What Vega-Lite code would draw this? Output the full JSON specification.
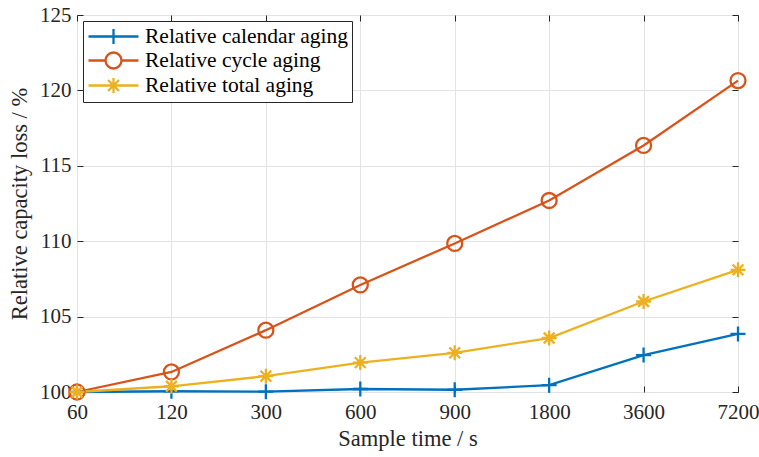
{
  "$schema": "https://vega.github.io/schema/vega-lite/v6.json",
  "autosize": {"type": "none"},
  "width": 661,
  "height": 377,
  "padding": {"left": 77, "top": 15, "right": 21, "bottom": 65},
  "background": "white",
  "config": {
    "font": "Liberation Serif",
    "view": {"stroke": "#262626", "strokeWidth": 1},
    "axis": {
      "labelFont": "Liberation Serif",
      "titleFont": "Liberation Serif",
      "labelFontSize": 21,
      "titleFontSize": 22.5,
      "titleFontWeight": "normal",
      "labelColor": "#262626",
      "titleColor": "#262626",
      "domainColor": "#262626",
      "tickColor": "#262626",
      "gridColor": "#e3e3e3",
      "gridWidth": 1
    },
    "legend": {
      "labelFont": "Liberation Serif"
    }
  },
  "data": {
    "values": [
      {"t": "60", "series": "Relative calendar aging", "v": 100.0},
      {"t": "120", "series": "Relative calendar aging", "v": 100.05},
      {"t": "300", "series": "Relative calendar aging", "v": 100.02},
      {"t": "600", "series": "Relative calendar aging", "v": 100.2},
      {"t": "900", "series": "Relative calendar aging", "v": 100.15},
      {"t": "1800", "series": "Relative calendar aging", "v": 100.45},
      {"t": "3600", "series": "Relative calendar aging", "v": 102.45},
      {"t": "7200", "series": "Relative calendar aging", "v": 103.85},
      {"t": "60", "series": "Relative cycle aging", "v": 100.0},
      {"t": "120", "series": "Relative cycle aging", "v": 101.33},
      {"t": "300", "series": "Relative cycle aging", "v": 104.1},
      {"t": "600", "series": "Relative cycle aging", "v": 107.1},
      {"t": "900", "series": "Relative cycle aging", "v": 109.85},
      {"t": "1800", "series": "Relative cycle aging", "v": 112.7},
      {"t": "3600", "series": "Relative cycle aging", "v": 116.35},
      {"t": "7200", "series": "Relative cycle aging", "v": 120.65},
      {"t": "60", "series": "Relative total aging", "v": 100.0},
      {"t": "120", "series": "Relative total aging", "v": 100.38},
      {"t": "300", "series": "Relative total aging", "v": 101.05},
      {"t": "600", "series": "Relative total aging", "v": 101.95},
      {"t": "900", "series": "Relative total aging", "v": 102.6},
      {"t": "1800", "series": "Relative total aging", "v": 103.58},
      {"t": "3600", "series": "Relative total aging", "v": 106.0},
      {"t": "7200", "series": "Relative total aging", "v": 108.1}
    ]
  },
  "resolve": {"axis": {"x": "independent", "y": "independent"}},
  "encoding": {
    "color": {
      "field": "series", "type": "nominal",
      "scale": {"domain": ["Relative calendar aging","Relative cycle aging","Relative total aging"], "range": ["#0072BD","#D95319","#EDB120"]}
    }
  },
  "layer": [
    {
      "mark": {"type": "line", "strokeWidth": 2.3},
      "encoding": {
        "x": {
          "field": "t", "type": "ordinal",
          "scale": {"type": "point", "padding": 0, "domain": ["60","120","300","600","900","1800","3600","7200"]},
          "axis": {"title": "Sample time / s", "labelAngle": 0, "grid": true, "tickSize": -6, "labelPadding": 15, "titlePadding": 5, "domain": false}
        },
        "y": {
          "field": "v", "type": "quantitative",
          "scale": {"domain": [100, 125], "nice": false, "zero": false},
          "axis": {"title": "Relative capacity loss / %", "values": [100,105,110,115,120,125], "grid": true, "tickSize": -6, "labelPadding": 12, "titlePadding": 8, "domain": false}
        },
        "color": {
          "field": "series", "type": "nominal",
          "scale": {"domain": ["Relative calendar aging","Relative cycle aging","Relative total aging"], "range": ["#0072BD","#D95319","#EDB120"]},
          "legend": {
            "title": null,
            "orient": "top-left",
            "offset": 6,
            "padding": 4,
            "fillColor": "white",
            "strokeColor": "#262626",
            "labelFont": "Liberation Serif",
            "labelFontSize": 21.5,
            "labelColor": "#000000",
            "labelOffset": 35,
            "labelLimit": 400,
            "symbolSize": 400,
            "symbolStrokeWidth": 2.3,
            "symbolFillColor": "transparent",
            "rowPadding": -2,
            "encode": {
              "symbols": {
                "update": {
                  "shape": {"signal": "datum.value === 'Relative calendar aging' ? 'M-1,0H4M1.5,-0.75V0.75' : datum.value === 'Relative cycle aging' ? 'M-1,0H0.7M2.3,0H4M0.7,0A0.8,0.8 0 1,0 2.3,0A0.8,0.8 0 1,0 0.7,0' : 'M-1,0H4M1.5,-0.75V0.75M0.95,-0.55L2.05,0.55M0.95,0.55L2.05,-0.55'"},
                  "fill": {"value": "transparent"}
                }
              }
            }
          }
        },
        "detail": {"field": "series"}
      }
    },
    {
      "transform": [{"filter": "datum.series === 'Relative calendar aging'"}],
      "mark": {"type": "point", "filled": false, "strokeWidth": 2.3, "size": 225, "opacity": 1, "shape": "M-1,0H1M0,-1V1"},
      "encoding": {
        "x": {
          "field": "t", "type": "ordinal",
          "scale": {"type": "point", "padding": 0, "domain": ["60","120","300","600","900","1800","3600","7200"]},
          "axis": {"orient": "top", "title": null, "labels": false, "grid": false, "tickSize": -6, "domain": false}
        },
        "y": {
          "field": "v", "type": "quantitative",
          "scale": {"domain": [100, 125], "nice": false, "zero": false},
          "axis": {"orient": "right", "title": null, "labels": false, "grid": false, "tickSize": -6, "values": [100,105,110,115,120,125], "domain": false}
        }
      }
    },
    {
      "transform": [{"filter": "datum.series === 'Relative cycle aging'"}],
      "mark": {"type": "point", "filled": false, "strokeWidth": 2.3, "size": 225, "opacity": 1, "shape": "circle"},
      "encoding": {
        "x": {"field": "t", "type": "ordinal", "axis": null},
        "y": {"field": "v", "type": "quantitative", "axis": null}
      }
    },
    {
      "transform": [{"filter": "datum.series === 'Relative total aging'"}],
      "mark": {"type": "point", "filled": false, "strokeWidth": 2.3, "size": 225, "opacity": 1, "shape": "M-1,0H1M0,-1V1M-0.72,-0.72L0.72,0.72M-0.72,0.72L0.72,-0.72"},
      "encoding": {
        "x": {"field": "t", "type": "ordinal", "axis": null},
        "y": {"field": "v", "type": "quantitative", "axis": null}
      }
    }
  ]
}
